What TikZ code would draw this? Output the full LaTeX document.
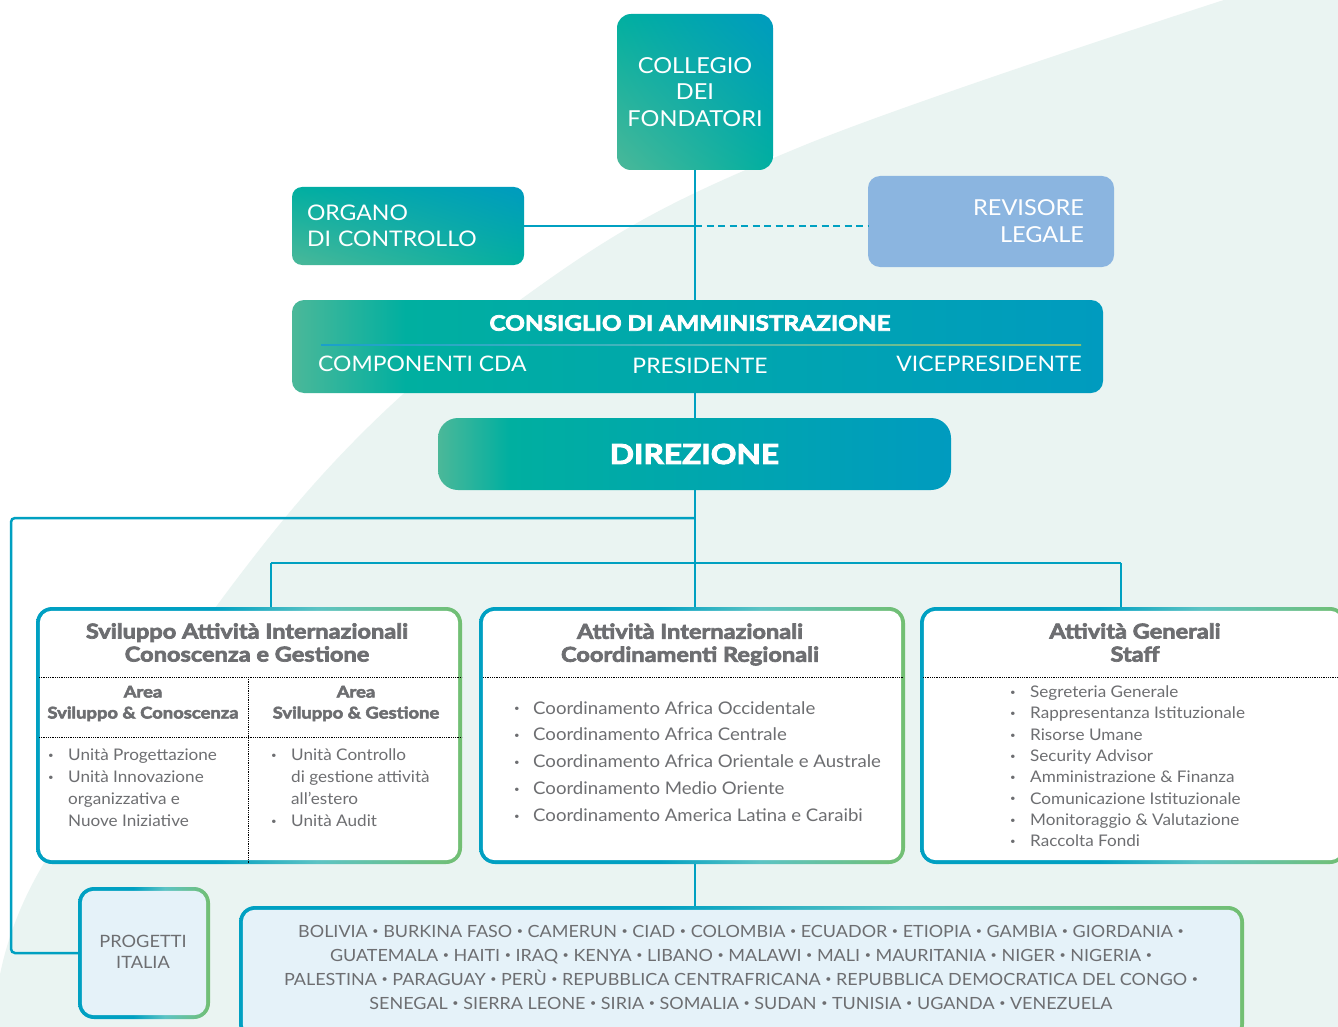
\documentclass[tikz,border=0pt]{standalone}
\usepackage{fontspec}
\setmainfont[FakeStretch=1.07]{Lato}
\newfontfamily\heavyfont[FakeBold=3.5,FakeStretch=1.15]{Lato}
\usetikzlibrary{calc,shadings}
\definecolor{cG}{HTML}{4BB899}
\definecolor{cT}{HTML}{00AFA0}
\definecolor{cB}{HTML}{009BBF}
\definecolor{lineB}{HTML}{00A0C1}
\definecolor{bB}{HTML}{00A0C2}
\definecolor{bT}{HTML}{5CC3C4}
\definecolor{bG}{HTML}{72BF72}
\definecolor{sepB}{HTML}{1B9FCB}
\definecolor{sepT}{HTML}{4CB9B8}
\definecolor{sepG}{HTML}{8DC06B}
\definecolor{mint}{HTML}{EAF4F2}
\definecolor{paleB}{HTML}{E5F2F9}
\definecolor{rev}{HTML}{8BB5E0}
\definecolor{txtgray}{HTML}{6D6E71}
\pgfdeclarehorizontalshading{bordergrad}{100bp}{color(0bp)=(bB); color(25bp)=(bB); color(46bp)=(bB); color(58bp)=(bT); color(75bp)=(bG); color(100bp)=(bG)}
\pgfdeclarehorizontalshading{headgrad}{100bp}{color(0bp)=(cG); color(25bp)=(cG); color(32bp)=(cT); color(75bp)=(cB); color(100bp)=(cB)}
\pgfdeclarehorizontalshading{sepgrad}{100bp}{color(0bp)=(sepB); color(25bp)=(sepB); color(50bp)=(sepT); color(75bp)=(sepG); color(100bp)=(sepG)}
\newcommand\lbul{\raisebox{0.25ex}{\fontsize{9}{9}\selectfont\textbullet}}
\newcommand\cb{\raisebox{2.2pt}{\fontsize{10}{10}\selectfont\textbullet}}
\begin{document}
\begin{tikzpicture}[x=1pt,y=-1pt,
  conn/.style={draw=lineB, line width=2.5pt},
  dashconn/.style={draw=lineB, line width=2.5pt, dash pattern=on 7pt off 4.5pt},
  diagbox/.style={shade, shading=bilinear interpolation, lower left=cG, upper left=cT, lower right=cT, upper right=cB, text=white, inner sep=0pt, font=\fontsize{22}{26.5}\selectfont},
  hbox/.style={shade, shading=headgrad, text=white, inner sep=0pt},
  gborder/.style={shade, shading=bordergrad, inner sep=0pt},
  ttl/.style={text=txtgray, align=center, inner sep=0pt, font=\heavyfont\bfseries\fontsize{20.5}{23}\selectfont},
  subh/.style={text=txtgray, align=center, inner sep=0pt, font=\heavyfont\bfseries\fontsize{16}{21}\selectfont},
  lst/.style={text=txtgray, inner sep=0pt, anchor=base west},
  dotl/.style={draw=black, line width=0.8pt, dash pattern=on 0.9pt off 0.9pt},
  wtxt/.style={text=white, inner sep=0pt}
]
\useasboundingbox (0,0) rectangle (1338,1027);
\clip (0,0) rectangle (1338,1027);
% background
\fill[white] (0,0) rectangle (1338,1027);
\fill[mint] plot[smooth, tension=0.6] coordinates {(1230,-2) (800,147) (548,280) (300,500) (40,870) (-5,1030)} -- (1340,1030) -- (1340,-2) -- cycle;

% top boxes
\node[diagbox, rounded corners=14pt, minimum width=156pt, minimum height=156pt, align=center] (col) at (695,92) {COLLEGIO\\DEI\\FONDATORI};
\node[diagbox, rounded corners=10pt, minimum width=232pt, minimum height=78pt, text width=202pt, align=left, font=\fontsize{21.5}{26.5}\selectfont] (org) at (408,226) {ORGANO\\DI CONTROLLO};
\node[fill=rev, rounded corners=12pt, minimum width=246pt, minimum height=91pt, text width=186pt, align=right, text=white, inner sep=0pt, font=\fontsize{22}{27}\selectfont] (rev) at (991,221.5) {REVISORE\\LEGALE};

% consiglio
\node[hbox, rounded corners=12pt, minimum width=811pt, minimum height=93pt] (cda) at (697.5,346.5) {};
\node[wtxt, font=\heavyfont\bfseries\fontsize{21.2}{24}\selectfont] (cdat) at (690,323) {CONSIGLIO DI AMMINISTRAZIONE};
\shade[shading=sepgrad] (321,344.2) rectangle (1081,345.8);
\node[wtxt, anchor=west, font=\fontsize{21.4}{24}\selectfont] (cdac) at (318,364) {COMPONENTI CDA};
\node[wtxt, font=\fontsize{21.4}{24}\selectfont] (cdap) at (700,366) {PRESIDENTE};
\node[wtxt, anchor=east, font=\fontsize{21.4}{24}\selectfont] (cdav) at (1082,364) {VICEPRESIDENTE};

% direzione
\node[hbox, rounded corners=20pt, minimum width=513pt, minimum height=72pt, font=\heavyfont\bfseries\fontsize{27.6}{30}\selectfont] (dir) at (694.5,454) {DIREZIONE};

% three boxes
\node[gborder, rounded corners=16pt, minimum width=426pt, minimum height=257pt] (A) at (249,735.5) {};
\fill[white, rounded corners=12pt] ([shift={(4pt,-4pt)}]A.north west) rectangle ([shift={(-4pt,4pt)}]A.south east);
\node[gborder, rounded corners=16pt, minimum width=426pt, minimum height=257pt] (B) at (692,735.5) {};
\fill[white, rounded corners=12pt] ([shift={(4pt,-4pt)}]B.north west) rectangle ([shift={(-4pt,4pt)}]B.south east);
\node[gborder, rounded corners=16pt, minimum width=426pt, minimum height=257pt] (C) at (1133,735.5) {};
\fill[white, rounded corners=12pt] ([shift={(4pt,-4pt)}]C.north west) rectangle ([shift={(-4pt,4pt)}]C.south east);

% box A contents
\node[ttl] (At) at (247,642.5) {Sviluppo Attività Internazionali\\Conoscenza e Gestione};
\draw[dotl] (39,677) -- (462,677);
\draw[dotl] (39,737) -- (462,737);
\draw[dotl] (248,677) -- (248,864);
\node[subh] (Ah1) at (143,703.5) {Area\\Sviluppo \& Conoscenza};
\node[subh] (Ah2) at (356,703.5) {Area\\Sviluppo \& Gestione};
\node[lst, font=\fontsize{16}{22}\selectfont] (Al1) at (48,760.5) {\begin{tabular}[t]{@{}p{20pt}@{}l@{}}\lbul & Unità Progettazione\\ \lbul & Unità Innovazione\\ & organizzativa e\\ & Nuove Iniziative\end{tabular}};
\node[lst, font=\fontsize{16}{22}\selectfont] (Al2) at (271,760.5) {\begin{tabular}[t]{@{}p{20pt}@{}l@{}}\lbul & Unità Controllo\\ & di gestione attività\\ & all’estero\\ \lbul & Unità Audit\end{tabular}};

% box B contents
\node[ttl] (Bt) at (690,644.5) {Attività Internazionali\\Coordinamenti Regionali};
\draw[dotl] (483,677) -- (904,677);
\node[lst, font=\fontsize{17.4}{26.8}\selectfont] (Bl) at (514,714) {\begin{tabular}[t]{@{}p{19pt}@{}l@{}}\lbul & Coordinamento Africa Occidentale\\ \lbul & Coordinamento Africa Centrale\\ \lbul & Coordinamento Africa Orientale e Australe\\ \lbul & Coordinamento Medio Oriente\\ \lbul & Coordinamento America Latina e Caraibi\end{tabular}};

% box C contents
\node[ttl] (Ct) at (1135,642.5) {Attività Generali\\Staff};
\draw[dotl] (923,677) -- (1338,677);
\node[lst, font=\fontsize{16}{21.3}\selectfont] (Cl) at (1010,697.5) {\begin{tabular}[t]{@{}p{20pt}@{}l@{}}\lbul & Segreteria Generale\\ \lbul & Rappresentanza Istituzionale\\ \lbul & Risorse Umane\\ \lbul & Security Advisor\\ \lbul & Amministrazione \& Finanza\\ \lbul & Comunicazione Istituzionale\\ \lbul & Monitoraggio \& Valutazione\\ \lbul & Raccolta Fondi\end{tabular}};

% progetti italia
\node[gborder, rounded corners=16pt, minimum width=132pt, minimum height=132pt] (pi) at (144,953) {};
\fill[paleB, rounded corners=12pt] ([shift={(4pt,-4pt)}]pi.north west) rectangle ([shift={(-4pt,4pt)}]pi.south east);
\node[text=txtgray, align=center, inner sep=0pt, font=\fontsize{17}{21}\selectfont] (pit) at (143,952) {PROGETTI\\ITALIA};

% countries
\node[gborder, rounded corners=16pt, minimum width=1005pt, minimum height=134pt] (ctry) at (741.5,973) {};
\fill[paleB, rounded corners=12pt] ([shift={(4pt,-4pt)}]ctry.north west) rectangle ([shift={(-4pt,4pt)}]ctry.south east);
\node[text=txtgray, align=center, inner sep=0pt, font=\fontsize{16.8}{24}\selectfont] (ctryt) at (741,967) {BOLIVIA \cb{} BURKINA FASO \cb{} CAMERUN \cb{} CIAD \cb{} COLOMBIA \cb{} ECUADOR \cb{} ETIOPIA \cb{} GAMBIA \cb{} GIORDANIA \cb\\GUATEMALA \cb{} HAITI \cb{} IRAQ \cb{} KENYA \cb{} LIBANO \cb{} MALAWI \cb{} MALI \cb{} MAURITANIA \cb{} NIGER \cb{} NIGERIA \cb\\PALESTINA \cb{} PARAGUAY \cb{} PERÙ \cb{} REPUBBLICA CENTRAFRICANA \cb{} REPUBBLICA DEMOCRATICA DEL CONGO \cb\\SENEGAL \cb{} SIERRA LEONE \cb{} SIRIA \cb{} SOMALIA \cb{} SUDAN \cb{} TUNISIA \cb{} UGANDA \cb{} VENEZUELA};

% connectors
\coordinate (busL) at (271,563);
\coordinate (busR) at (1121,563);
\coordinate (loopTop) at (695,518);
\draw[conn] (col.south) -- (col.south |- cda.north);
\draw[conn] (col.south |- cda.south) -- (col.south |- dir.north);
\draw[conn] (col.south |- dir.south) -- (col.south |- B.north);
\draw[conn] (busL) -- (busR);
\draw[conn] (busL) -- (busL |- A.north);
\draw[conn] (busR) -- (busR |- C.north);
\draw[conn] (col.south |- B.south) -- (col.south |- ctry.north);
\draw[conn] (org.east) -- (org.east -| col.south);
\draw[dashconn] (org.east -| col.south) -- (org.east -| rev.west);
\draw[conn, rounded corners=4pt] (loopTop) -- (11,518) -- (11,953) -- (pi.west);
\end{tikzpicture}
\end{document}
